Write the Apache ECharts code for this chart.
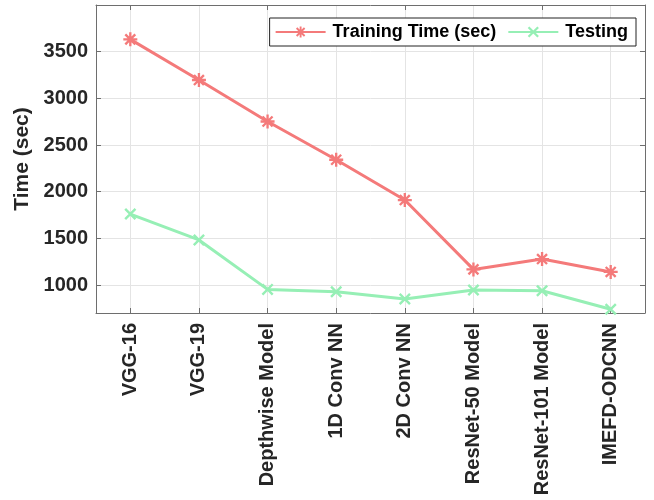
<!DOCTYPE html>
<html>
<head>
<meta charset="utf-8">
<script src="https://cdn.jsdelivr.net/npm/echarts@6/dist/echarts.min.js"></script>
<style>
  html, body { margin: 0; padding: 0; background: #fff; }
  #chart { width: 654px; height: 500px; }
</style>
</head>
<body>
<div id="chart"></div>
<script>
// Model names along the x axis
const categories = ['VGG-16', 'VGG-19', 'Depthwise Model', '1D Conv NN', '2D Conv NN',
  'ResNet-50 Model', 'ResNet-101 Model', 'IMEFD-ODCNN'];
// Times in seconds
const trainingTime = [3632, 3196, 2752, 2342, 1910, 1167, 1278, 1140];
const testingTime = [1760, 1483, 953, 928, 850, 947, 938, 740];
// Labelled y ticks
const yTicks = [1000, 1500, 2000, 2500, 3000, 3500];

const FONT = 'Liberation Sans, Arial, Helvetica, sans-serif';
const FRAME = '#6e6e6e';
const GRID = '#e4e4e4';

// Marker shapes: eight-arm asterisk and a plain cross
const asteriskPath = 'path://M1 8.5L19 8.5L19 11.5L1 11.5Z M8.5 1L11.5 1L11.5 19L8.5 19Z ' +
  'M4.66 2.54L17.46 15.34L15.34 17.46L2.54 4.66Z M15.34 2.54L17.46 4.66L4.66 17.46L2.54 15.34Z';
const crossPath = 'path://M4.66 2.54L17.46 15.34L15.34 17.46L2.54 4.66Z M15.34 2.54L17.46 4.66L4.66 17.46L2.54 15.34Z';

const chart = echarts.init(document.getElementById('chart'), null, { renderer: 'canvas' });

chart.setOption({
  backgroundColor: '#fff',
  animation: false,
  textStyle: { fontFamily: FONT },
  grid: { left: 96, right: 9, top: 5, bottom: 187, show: false },
  legend: {
    right: 18,
    top: 18,
    orient: 'horizontal',
    itemWidth: 50,
    itemHeight: 14,
    itemGap: 11,
    padding: [5, 8, 5, 5],
    borderColor: '#222',
    borderWidth: 1,
    backgroundColor: '#fff',
    textStyle: { fontSize: 18, fontWeight: 'bold', color: '#000', fontFamily: FONT, padding: [0, 0, 0, 2] },
    data: ['Training Time (sec)', 'Testing']
  },
  xAxis: [{
    type: 'category',
    data: categories,
    position: 'bottom',
    boundaryGap: true,
    axisLine: { show: true, lineStyle: { color: FRAME, width: 1 } },
    axisTick: { show: true, inside: true, alignWithLabel: true, length: 5, lineStyle: { color: FRAME } },
    axisLabel: { rotate: 90, fontSize: 20, fontWeight: 'bold', color: '#262626', margin: 10, fontFamily: FONT, interval: 0 },
    splitLine: { show: true, alignWithLabel: true, lineStyle: { color: GRID, width: 1 } }
  }, {
    type: 'category',
    data: categories,
    position: 'top',
    boundaryGap: true,
    axisLine: { show: true, lineStyle: { color: FRAME, width: 1 } },
    axisTick: { show: true, inside: true, alignWithLabel: true, length: 5, lineStyle: { color: FRAME } },
    axisLabel: { show: false },
    splitLine: { show: false }
  }],
  yAxis: [{
    type: 'value',
    min: 700,
    max: 4000,
    position: 'left',
    name: 'Time (sec)',
    nameLocation: 'middle',
    nameGap: 50,
    nameTextStyle: { fontSize: 21, fontWeight: 'bold', color: '#262626', fontFamily: FONT },
    axisLine: { show: true, lineStyle: { color: FRAME, width: 1 } },
    axisTick: { show: true, inside: true, length: 5, customValues: yTicks, lineStyle: { color: FRAME } },
    axisLabel: {
      customValues: yTicks, fontSize: 20, fontWeight: 'bold', color: '#262626', margin: 8, fontFamily: FONT,
      formatter: (v) => String(v)
    },
    splitLine: { show: true, customValues: yTicks, lineStyle: { color: GRID, width: 1 } }
  }, {
    type: 'value',
    min: 700,
    max: 4000,
    position: 'right',
    axisLine: { show: true, lineStyle: { color: FRAME, width: 1 } },
    axisTick: { show: true, inside: true, length: 5, customValues: yTicks, lineStyle: { color: FRAME } },
    axisLabel: { show: false },
    splitLine: { show: false }
  }],
  series: [{
    name: 'Training Time (sec)',
    type: 'line',
    data: trainingTime,
    symbol: asteriskPath,
    symbolSize: 14,
    lineStyle: { color: '#f47a7a', width: 3 },
    itemStyle: { color: '#f47a7a' },
    z: 3
  }, {
    name: 'Testing',
    type: 'line',
    data: testingTime,
    symbol: crossPath,
    symbolSize: 12,
    lineStyle: { color: '#96efb5', width: 3 },
    itemStyle: { color: '#96efb5' },
    z: 2
  }]
});
</script>
</body>
</html>
